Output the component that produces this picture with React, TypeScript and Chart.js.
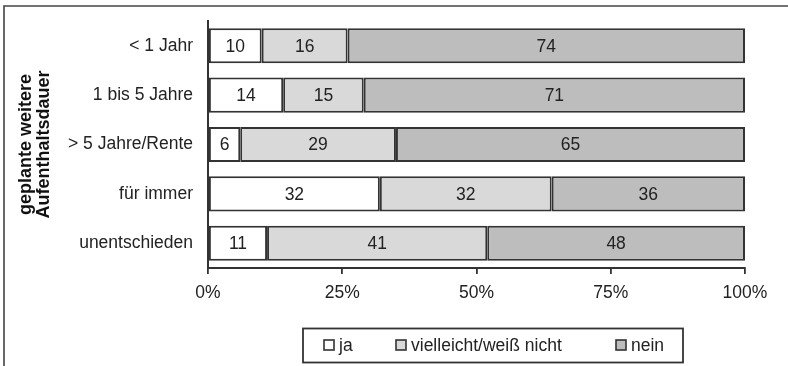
import React, { useEffect, useRef } from "react";
import { Chart, registerables } from "chart.js";

Chart.register(...registerables);

const categories = ["< 1 Jahr", "1 bis 5 Jahre", "> 5 Jahre/Rente", "für immer", "unentschieden"];
const seriesNames = ["ja", "vielleicht/weiß nicht", "nein"];
const jaValues = [10, 14, 6, 32, 11];
const vielleichtValues = [16, 15, 29, 32, 41];
const neinValues = [74, 71, 65, 36, 48];
const seriesColors = ["#ffffff", "#d9d9d9", "#bdbdbd"];
const axisTitle = ["geplante weitere", "Aufenthaltsdauer"];
const xTicks = [0, 25, 50, 75, 100];

const FONT = "'Liberation Sans', Arial, sans-serif";
const INK = "#333333";
const TEXT_SIZE = 17.5;

// Frame, segment values and a boxed legend drawn on top of the chart
const decorations = {
  id: "decorations",
  afterDatasetsDraw(chart: any) {
    const ctx = chart.ctx;
    ctx.save();
    ctx.font = `${TEXT_SIZE}px ${FONT}`;
    ctx.fillStyle = "#222";
    ctx.textAlign = "center";
    ctx.textBaseline = "middle";
    chart.data.datasets.forEach((ds: any, di: number) => {
      const meta = chart.getDatasetMeta(di);
      meta.data.forEach((el: any, i: number) => {
        const p = el.getCenterPoint();
        ctx.fillText(String(ds.data[i]), p.x, p.y + 1);
      });
    });
    ctx.restore();
  },
  afterDraw(chart: any) {
    const ctx = chart.ctx;
    ctx.save();
    // outer frame
    ctx.strokeStyle = "#444";
    ctx.lineWidth = 1.6;
    ctx.beginPath();
    ctx.moveTo(4, chart.height);
    ctx.lineTo(4, 6);
    ctx.lineTo(chart.width, 6);
    ctx.stroke();

    // legend box
    ctx.strokeStyle = INK;
    ctx.lineWidth = 1.8;
    ctx.strokeRect(303, 328.5, 380, 34);
    const itemX = [324, 396, 616];
    const cy = 345;
    ctx.font = `${TEXT_SIZE}px ${FONT}`;
    ctx.textAlign = "left";
    ctx.textBaseline = "middle";
    chart.data.datasets.forEach((ds: any, di: number) => {
      const x = itemX[di];
      ctx.fillStyle = ds.backgroundColor;
      ctx.fillRect(x, cy - 5, 10, 10);
      ctx.lineWidth = 1.6;
      ctx.strokeStyle = INK;
      ctx.strokeRect(x, cy - 5, 10, 10);
      ctx.fillStyle = "#222";
      ctx.fillText(ds.label, x + 15, cy + 1);
    });
    ctx.restore();
  },
};

export default function App() {
  const canvasRef = useRef<HTMLCanvasElement | null>(null);

  useEffect(() => {
    document.body.style.margin = "0";
    const canvas = canvasRef.current;
    if (!canvas) return;
    const valueSets = [jaValues, vielleichtValues, neinValues];
    const chart = new Chart(canvas, {
      type: "bar",
      data: {
        labels: categories,
        datasets: seriesNames.map((name, i) => ({
          label: name,
          data: valueSets[i],
          backgroundColor: seriesColors[i],
          borderColor: INK,
          borderWidth: 2,
          borderSkipped: false,
          barPercentage: 0.71,
          categoryPercentage: 1,
        })),
      },
      options: {
        indexAxis: "y",
        responsive: false,
        animation: false,
        devicePixelRatio: 1,
        layout: { padding: { top: 21, right: 43, left: 0, bottom: 0 } },
        plugins: {
          legend: { display: false },
          tooltip: { enabled: false },
        },
        scales: {
          x: {
            stacked: true,
            min: 0,
            max: 100,
            afterBuildTicks(scale: any) {
              scale.ticks = xTicks.map((v) => ({ value: v }));
            },
            afterFit(scale: any) {
              scale.height = 98;
            },
            ticks: {
              callback: (v: any) => `${v}%`,
              color: "#222",
              font: { family: FONT, size: TEXT_SIZE },
              padding: 9,
              maxRotation: 0,
            },
            grid: {
              drawOnChartArea: false,
              drawTicks: true,
              tickLength: 6,
              color: INK,
              lineWidth: 1.8,
            },
            border: { display: true, color: INK, width: 2 },
          },
          y: {
            stacked: true,
            afterFit(scale: any) {
              scale.width = 208;
            },
            ticks: {
              color: "#222",
              font: { family: FONT, size: TEXT_SIZE },
              padding: 2,
            },
            // invisible tick marks keep the labels clear of the axis line
            grid: {
              display: true,
              drawOnChartArea: false,
              drawTicks: true,
              tickLength: 13,
              color: "rgba(0,0,0,0)",
            },
            border: { display: true, color: INK, width: 2 },
            title: {
              display: true,
              text: axisTitle,
              color: "#111",
              font: { family: FONT, size: 18, weight: "bold", lineHeight: 1.0 },
              padding: { top: 17, bottom: 0 },
            },
          },
        },
      },
      plugins: [decorations],
    } as any);
    return () => chart.destroy();
  }, []);

  return (
    <div style={{ width: 788, height: 366 }}>
      <canvas ref={canvasRef} width={788} height={366} />
    </div>
  );
}
